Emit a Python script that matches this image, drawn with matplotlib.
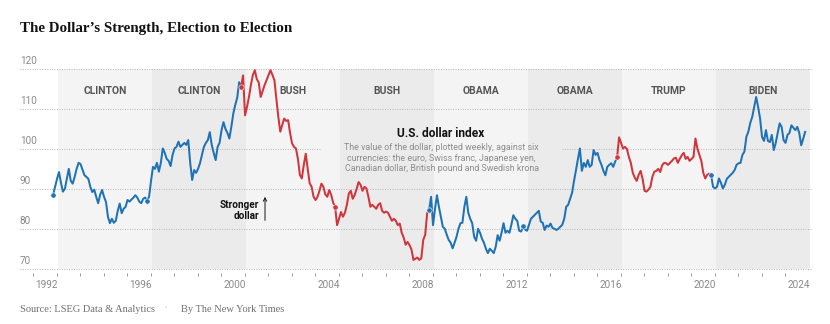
import matplotlib

matplotlib.use("Agg")
import matplotlib.pyplot as plt
import matplotlib.transforms as mtransforms
import numpy as np

# U.S. dollar index, monthly, one list per presidential term.
# Each list starts at the November election and runs to the October
# before the next election.
clinton_1 = [
    88.5, 90.5,
    92.5, 94.2, 91.5, 89.3, 90.0, 92.5, 95.0, 92.0, 91.3, 93.0, 95.0, 96.5,
    96.2, 94.8, 93.4, 93.0, 92.5, 90.5, 89.2, 89.8, 88.0, 86.4, 88.5, 89.7,
    88.0, 86.7, 83.0, 81.4, 82.5, 81.5, 82.0, 84.5, 86.3, 83.9, 85.0, 85.5,
    87.2, 86.8, 87.3, 87.8, 88.4, 87.8, 86.8, 86.4, 87.5, 87.8,
]
clinton_2 = [
    87.0, 88.0,
    92.0, 95.5, 95.0, 96.5, 94.3, 96.5, 100.1, 99.0, 97.5, 97.0, 95.7, 98.5,
    100.1, 100.5, 101.8, 100.5, 101.0, 101.5, 101.0, 102.2, 96.5, 92.2, 94.7, 94.0,
    95.0, 96.4, 98.5, 100.5, 101.5, 102.2, 104.2, 101.0, 99.0, 97.2, 100.5, 101.5,
    104.7, 106.7, 105.0, 104.0, 102.6, 105.5, 108.8, 111.0, 112.8, 116.7,
]
bush_1 = [
    115.5, 118.4,
    108.4, 110.5, 113.0, 116.0, 118.5, 119.7, 117.5, 116.6, 113.0, 114.5, 116.0, 117.2,
    118.5, 119.7, 118.5, 117.2, 112.5, 108.0, 104.3, 106.0, 107.6, 107.0, 107.2, 104.0,
    101.4, 100.5, 100.1, 97.5, 93.5, 92.6, 96.0, 98.8, 95.0, 91.4, 90.5, 88.0,
    87.2, 88.0, 89.5, 91.3, 90.5, 88.6, 88.0, 89.7, 88.5, 86.5,
]
bush_2 = [
    85.5, 80.9,
    82.5, 84.2, 83.0, 84.0, 86.0, 88.8, 89.5, 87.5, 88.5, 90.0, 91.7, 91.0,
    89.5, 90.5, 90.1, 88.0, 85.5, 86.0, 85.5, 85.0, 86.0, 86.4, 84.5, 84.0,
    84.3, 84.0, 83.0, 82.0, 82.5, 82.0, 80.9, 81.3, 79.0, 77.8, 76.0, 76.7,
    75.9, 74.8, 72.2, 72.5, 72.8, 72.2, 72.6, 77.2, 78.5, 83.9,
]
obama_1 = [
    84.7, 88.0,
    80.9, 85.0, 88.4, 85.5, 83.0, 80.5, 80.0, 78.5, 77.2, 76.5, 75.1, 76.5,
    78.0, 80.0, 81.4, 81.5, 85.5, 88.0, 84.0, 82.5, 81.4, 78.0, 77.0, 80.0,
    79.0, 77.5, 76.5, 75.0, 73.9, 75.0, 74.5, 73.9, 75.5, 78.4, 77.0, 79.0,
    81.4, 79.0, 79.5, 79.0, 81.0, 83.4, 82.5, 82.0, 79.5, 79.3,
]
obama_2 = [
    80.7, 79.8,
    79.5, 81.0, 82.5, 83.0, 83.5, 84.0, 84.5, 81.8, 81.5, 79.7, 80.8, 80.5,
    81.3, 80.2, 80.0, 79.7, 80.0, 80.5, 81.0, 82.5, 85.5, 86.0, 87.5, 89.0,
    92.0, 94.7, 97.5, 100.1, 94.5, 96.5, 95.5, 97.2, 95.5, 96.0, 99.7, 98.5,
    99.0, 97.2, 96.0, 94.5, 93.4, 95.5, 96.0, 96.4, 95.5, 96.8,
]
trump_1 = [
    97.9, 102.9,
    101.5, 100.1, 100.5, 100.0, 98.0, 96.5, 94.0, 92.8, 92.0, 93.5, 94.5, 92.5,
    89.5, 89.3, 89.8, 90.5, 93.0, 94.3, 94.5, 95.0, 94.2, 95.9, 96.5, 96.4,
    96.0, 96.5, 97.0, 97.6, 97.8, 96.5, 97.5, 98.4, 99.0, 97.5, 98.0, 97.0,
    97.5, 98.0, 102.6, 100.1, 98.5, 97.0, 94.0, 92.6, 93.5, 93.8,
]
biden_1 = [
    93.4, 90.5,
    90.1, 90.5, 92.6, 91.5, 90.1, 91.0, 92.5, 93.0, 93.5, 94.0, 94.7, 96.0,
    96.4, 96.5, 98.5, 99.3, 103.0, 104.3, 106.5, 108.0, 110.5, 113.0, 110.5, 107.6,
    103.0, 102.0, 104.7, 102.0, 101.7, 103.5, 99.7, 101.5, 104.0, 106.4, 105.5, 102.2,
    101.5, 103.5, 104.0, 105.9, 105.3, 104.7, 105.5, 104.0, 100.9, 102.5,
]
election_2024 = 104.25

terms = [clinton_1, clinton_2, bush_1, bush_2, obama_1, obama_2, trump_1, biden_1]
presidents = ["CLINTON", "CLINTON", "BUSH", "BUSH", "OBAMA", "OBAMA", "TRUMP", "BIDEN"]
parties = ["D", "D", "R", "R", "D", "D", "R", "D"]
election_years = [1992, 1996, 2000, 2004, 2008, 2012, 2016, 2020]

party_color = {"D": "#1f72b5", "R": "#d3343b"}
band_colors = ["#f4f4f4", "#ebebeb"]
grid_color = "#b5b5b5"
label_gray = "#8a8a8a"


def main():
    plt.rcParams["font.family"] = ["Roboto", "DejaVu Sans"]
    fig = plt.figure(figsize=(8.3, 3.24), dpi=100)
    fig.patch.set_facecolor("white")

    W, H = 830, 324
    px_left, px_right = 20, 813
    px_top, px_bottom = 69, 272.7
    ax = fig.add_axes(
        [px_left / W, 1 - px_bottom / H, (px_right - px_left) / W, (px_bottom - px_top) / H]
    )

    year0_px, px_per_year = 33.3, 23.5
    xmin = 1992 + (px_left - year0_px) / px_per_year
    xmax = 1992 + (px_right - year0_px) / px_per_year
    ax.set_xlim(xmin, xmax)
    ax.set_ylim(69, 120)

    # presidential terms, inauguration to inauguration
    for i, (year, name) in enumerate(zip(election_years, presidents)):
        start = year + 1.05
        ax.fill_between(
            [start, start + 4], 70, 120, color=band_colors[i % 2], lw=0, zorder=0
        )
        ax.text(
            start + 2, 114.4, name, ha="center", va="center",
            fontsize=7.5, fontweight="bold", color="#555555", zorder=3,
        )

    # dotted gridlines; the 100 line stops around the index note
    for val in [70, 80, 90, 110, 120]:
        ax.hlines(val, xmin, xmax, colors=grid_color, linestyles=(0, (1, 1.5)),
                  lw=0.7, zorder=1)
    ax.hlines(100, xmin, 2004.2, colors=grid_color, linestyles=(0, (1, 1.5)),
              lw=0.7, zorder=1)
    ax.hlines(100, 2014.5, xmax, colors=grid_color, linestyles=(0, (1, 1.5)),
              lw=0.7, zorder=1)
    for val in [70, 80, 90, 100, 110, 120]:
        ax.text(xmin, val + 0.7, str(val), ha="left", va="bottom",
                fontsize=7.2, color=label_gray)

    # index line, colored by the party that won each election
    for i, (year, values) in enumerate(zip(election_years, terms)):
        xs = year + 10 / 12 + 0.01 + np.arange(len(values) + 1) / 12
        nxt = terms[i + 1][0] if i + 1 < len(terms) else election_2024
        ys = list(values) + [nxt]
        color = party_color[parties[i]]
        ax.plot(xs, ys, color=color, lw=1.45, solid_joinstyle="round", zorder=4)
        ax.plot(xs[0], ys[0], "o", color=color, ms=3.8, mec="white", mew=0.4, zorder=5)

    # annotations
    ax.text(2009.33, 103.85, "U.S. dollar index", ha="center", va="center",
            fontsize=8.6, fontweight="bold", color="#121212", zorder=3)
    note = [
        "The value of the dollar, plotted weekly, against six",
        "currencies: the euro, Swiss franc, Japanese yen,",
        "Canadian dollar, British pound and Swedish krona",
    ]
    for line, yv in zip(note, [100.25, 97.6, 95.1]):
        ax.text(2009.38, yv, line, ha="center", va="center",
                fontsize=6.4, color="#8c8c8c", zorder=3)

    ax.text(2001.6, 84.6, "Stronger\ndollar", ha="right", va="center",
            multialignment="right", fontsize=7.2, fontweight="bold",
            color="#121212", linespacing=1.05, zorder=3)
    ax.annotate(
        "", xy=(2001.86, 88.0), xytext=(2001.86, 82.1),
        arrowprops=dict(arrowstyle="->", lw=0.7, color="#121212",
                        shrinkA=0, shrinkB=0, mutation_scale=6),
        zorder=3,
    )

    # year ticks
    years = np.arange(1992, 2025)
    ax.set_xticks(years)
    ax.set_xticklabels([str(y) if y % 4 == 0 else "" for y in years])
    ax.tick_params(axis="x", length=2.4, width=0.7, color="#9a9a9a",
                   labelsize=7.2, labelcolor=label_gray, pad=2.6)
    shift = mtransforms.ScaledTranslation(2 / 100, 0, fig.dpi_scale_trans)
    for lab in ax.get_xticklabels():
        lab.set_horizontalalignment("left")
        lab.set_transform(lab.get_transform() + shift)
    ax.set_yticks([])
    for s in ax.spines.values():
        s.set_visible(False)
    ax.set_facecolor("white")

    fig.text(20 / W, 1 - 32 / H, "The Dollar\u2019s Strength, Election to Election",
             ha="left", va="baseline", fontsize=10.8, fontweight="bold",
             family="Liberation Serif", color="#121212")
    fig.text(20 / W, 1 - 309 / H, "Source: LSEG Data & Analytics", ha="left",
             va="center", fontsize=7.5, family="Liberation Serif", color="#6f6f6f")
    fig.text(166 / W, 1 - 309 / H, "\u2022", ha="center", va="center",
             fontsize=5, color="#cccccc")
    fig.text(181 / W, 1 - 309 / H, "By The New York Times", ha="left",
             va="center", fontsize=7.5, family="Liberation Serif", color="#6f6f6f")

    fig.savefig("out.png", dpi=100)


if __name__ == "__main__":
    main()
